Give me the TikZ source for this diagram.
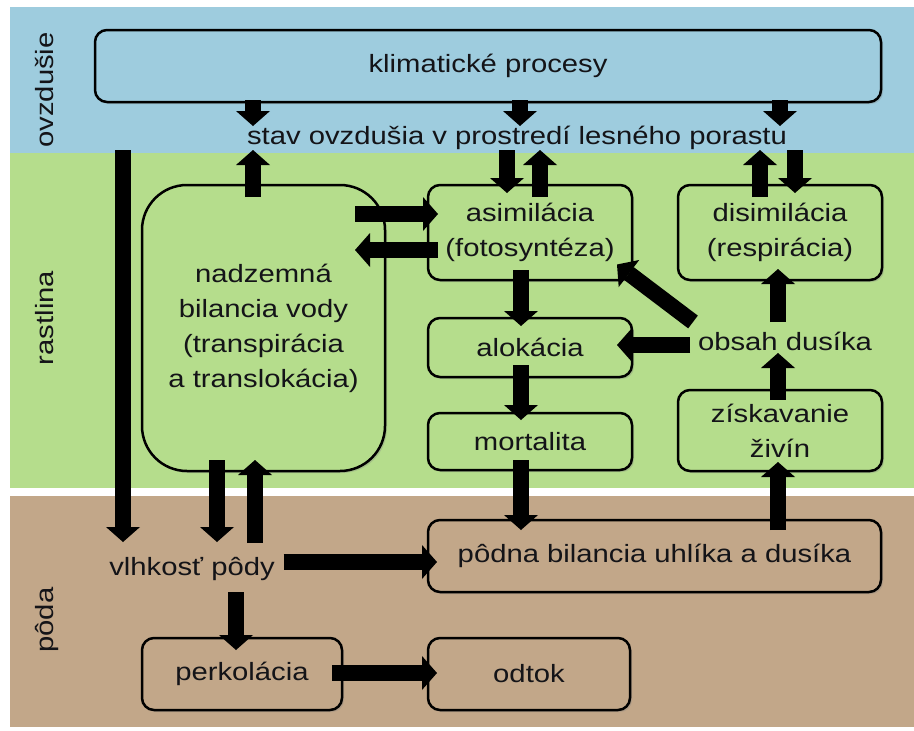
\documentclass[tikz,border=0pt]{standalone}
\usepackage{fontspec}
\setmainfont{Liberation Sans}
\usepackage{graphicx}
\usetikzlibrary{arrows.meta,calc,shadows}
\definecolor{bluebg}{RGB}{158,204,222}
\definecolor{greenbg}{RGB}{181,221,140}
\definecolor{brownbg}{RGB}{194,167,137}
\definecolor{txt}{RGB}{20,20,24}
\newcommand{\dfont}{\fontsize{25}{35}\selectfont}
\newcommand{\hs}[1]{\scalebox{1.17}[1]{#1}}
\begin{document}
\begin{tikzpicture}[x=1pt,y=-1pt,
  box/.style={draw=black, line width=2.5pt, rounded corners=12pt, outer sep=0pt, inner sep=0pt,
    align=center, font=\dfont, text=txt,
    drop shadow={shadow xshift=2pt, shadow yshift=-2pt, opacity=0.3}},
  lbl/.style={inner sep=0pt, outer sep=0pt, text height=18pt, text depth=6pt, font=\dfont, text=txt},
  barrow/.style={draw=black, line width=16pt, -{Triangle[width=34pt,length=15pt,line width=0pt]}}]
\useasboundingbox (0,0) rectangle (914,731);
\fill[white] (0,0) rectangle (914,731);
% bands
\fill[bluebg] (10,7) rectangle (914,153);
\fill[greenbg] (10,153) rectangle (914,488);
\fill[brownbg] (10,496) rectangle (914,727);
% band labels
\node[lbl,rotate=90] (lo) at (47,90) {\hs{ovzdušie}};
\node[lbl,rotate=90] (lr) at (47,318) {\hs{rastlina}};
\node[lbl,rotate=90] (lp) at (47,620) {\hs{pôda}};
% boxes
\node[box,fill=bluebg,minimum width=786pt,minimum height=72pt] (klim) at (488,66) {\hs{klimatické procesy}};
\node[lbl] (stav) at (517,138) {\hs{stav ovzdušia v prostredí lesného porastu}};
\node[box,fill=greenbg,rounded corners=45pt,minimum width=243pt,minimum height=286pt] (nadz) at (263.5,328)
  {\hs{nadzemná}\\\hs{bilancia vody}\\\hs{(transpirácia}\\\hs{a translokácia)}};
\node[box,fill=greenbg,minimum width=204pt,minimum height=95pt] (asim) at (530,232.5) {\hs{asimilácia}\\\hs{(fotosyntéza)}};
\node[box,fill=greenbg,minimum width=204pt,minimum height=95pt] (disim) at (780,232.5) {\hs{disimilácia}\\\hs{(respirácia)}};
\node[box,fill=greenbg,minimum width=204pt,minimum height=59pt] (alok) at (530,347.5) {\hs{alokácia}};
\node[box,fill=greenbg,minimum width=204pt,minimum height=57pt] (mort) at (530,441.5) {\hs{mortalita}};
\node[box,fill=greenbg,minimum width=204pt,minimum height=81pt] (ziska) at (780,430.5) {\hs{získavanie}\\\hs{živín}};
\node[lbl] (obsah) at (785,344) {\hs{obsah dusíka}};
\node[box,fill=brownbg,minimum width=453pt,minimum height=72pt] (podna) at (654.5,556) {\hs{pôdna bilancia uhlíka a dusíka}};
\node[lbl] (vlhk) at (192,569) {\hs{vlhkosť pôdy}};
\node[box,fill=brownbg,minimum width=200pt,minimum height=72pt] (perk) at (242,674) {\hs{perkolácia}};
\node[box,fill=brownbg,minimum width=202pt,minimum height=72pt] (odtok) at (529,674) {\hs{odtok}};
% arrows: climate -> stand atmosphere
\foreach \xx in {253,520,780}
  \draw[barrow] ($(klim.south -| \xx,0)+(0,-2)$) -- (stav.north -| \xx,0);
% long arrow atmosphere -> soil moisture
\draw[barrow] (stav.south -| 123,0) -- ($(vlhk.north -| 123,0)+(0,-15)$);
% above-ground water balance
\draw[barrow] ($(nadz.north -| 253,0)+(0,12)$) -- (stav.south -| 253,0);
\draw[barrow] ($(nadz.east |- 0,214)+(-30,0)$) -- ($(asim.west |- 0,214)+(10,0)$);
\draw[barrow] ($(asim.west |- 0,250)+(10,0)$) -- ($(nadz.east |- 0,250)+(-30,0)$);
% assimilation / dissimilation exchange
\draw[barrow] (stav.south -| 507,0) -- ($(asim.north -| 507,0)+(0,8)$);
\draw[barrow] ($(asim.north -| 540,0)+(0,12)$) -- (stav.south -| 540,0);
\draw[barrow] ($(disim.north -| 760,0)+(0,12)$) -- (stav.south -| 760,0);
\draw[barrow] (stav.south -| 795,0) -- ($(disim.north -| 795,0)+(0,8)$);
% carbon chain
\draw[barrow] ($(asim.south -| 521,0)+(0,-10)$) -- ($(alok.north -| 521,0)+(0,8)$);
\draw[barrow] ($(alok.south -| 521,0)+(0,-12)$) -- ($(mort.north -| 521,0)+(0,7)$);
\draw[barrow] ($(mort.south -| 521,0)+(0,-10)$) -- ($(podna.north -| 521,0)+(0,10)$);
% nitrogen
\draw[barrow] ($(obsah.west)+(-8,1)$) -- ($(alok.east |- obsah.west)+(-15,1)$);
\draw[barrow] ($(obsah.north west)+(-5,-10)$) -- ($(asim.east)+(-15,32)$);
\draw[barrow] ($(obsah.north -| 778,0)+(0,-10)$) -- ($(disim.south -| 778,0)+(0,-11)$);
\draw[barrow] ($(ziska.north -| 778,0)+(0,10)$) -- ($(obsah.south -| 778,0)+(0,-3)$);
\draw[barrow] ($(podna.north -| 778,0)+(0,10)$) -- ($(ziska.south -| 778,0)+(0,-9)$);
% soil moisture
\draw[barrow] ($(nadz.south -| 217,0)+(0,-11)$) -- ($(vlhk.north -| 217,0)+(0,-15)$);
\draw[barrow] ($(vlhk.north -| 255,0)+(0,-14)$) -- ($(nadz.south -| 255,0)+(0,-11)$);
\draw[barrow] ($(vlhk.east)+(9,-7)$) -- ($(podna.west |- 0,562)+(9,0)$);
\draw[barrow] ($(vlhk.south -| 236,0)+(0,11)$) -- ($(perk.north -| 236,0)+(0,12)$);
\draw[barrow] ($(perk.east)+(-10,-1)$) -- ($(odtok.west)+(9,-1)$);
\end{tikzpicture}
\end{document}
